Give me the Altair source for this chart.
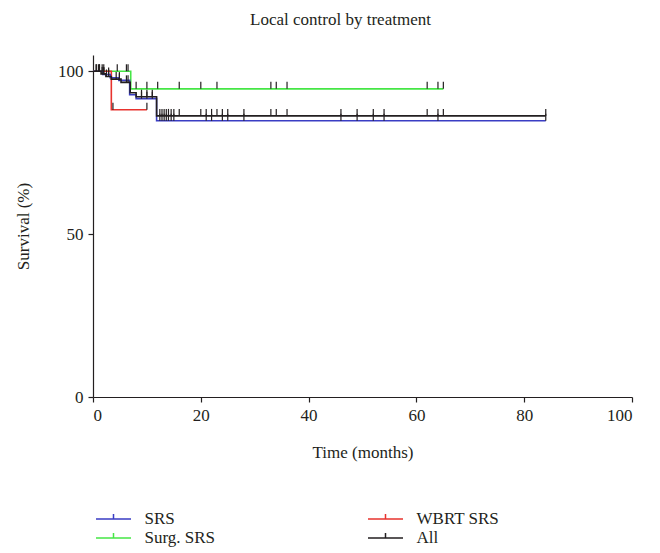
import altair as alt
import pandas as pd

# ---- Kaplan-Meier step data (time in months, survival %) ----
srs_t = [0, 1.8, 3.2, 4.8, 6.8, 8.0, 11.8, 84]
srs_s = [100, 99.0, 98.0, 97.2, 92.8, 91.6, 84.8, 84.8]
surg_t = [0, 7.0, 65]
surg_s = [100, 94.6, 94.6]
wbrt_t = [0, 3.4, 10]
wbrt_s = [100, 88.2, 88.2]
all_t = [0, 1.5, 2.4, 3.4, 5.2, 6.9, 8.0, 11.8, 84]
all_s = [100, 99.2, 98.4, 97.6, 96.6, 93.4, 92.2, 86.3, 86.3]

# ---- censoring times ----
srs_c = [1.2, 2.0, 2.9, 4.9, 9.0, 10.0, 11.0, 12.4, 12.8, 13.2, 13.6, 14.0, 14.5,
         15.0, 21, 22, 24, 25, 28, 46, 49, 52, 54, 64, 84]
surg_c = [1.0, 2.0, 4.5, 6.2, 6.5, 8, 10, 12, 16, 20, 23, 33, 34, 36, 62, 64, 65]
wbrt_c = [0.6, 1.7, 3.7, 10]
all_c = [0.6, 1.2, 1.7, 2.0, 2.5, 2.9, 4.3, 4.9, 6.2, 6.5, 9, 10, 11, 12.4, 12.8,
         13.2, 13.6, 14.0, 14.5, 15.0, 16, 20, 21, 22, 23, 24, 25, 28, 33, 34, 36,
         46, 49, 52, 54, 62, 64, 65, 84]

# legend is filled column by column: SRS, Surg. SRS | WBRT SRS, All
groups = ["SRS", "Surg. SRS", "WBRT SRS", "All"]
colors = ["#3a3dc4", "#45e645", "#e8332e", "#231f20"]

series = {
    "Surg. SRS": (surg_t, surg_s, surg_c),
    "WBRT SRS": (wbrt_t, wbrt_s, wbrt_c),
    "SRS": (srs_t, srs_s, srs_c),
    "All": (all_t, all_s, all_c),
}


def level(ts, ss, t):
    v = ss[0]
    for ti, si in zip(ts, ss):
        if ti <= t:
            v = si
    return v


line_rows, tick_rows = [], []
for g, (ts, ss, cs) in series.items():
    for i, (t, s) in enumerate(zip(ts, ss)):
        line_rows.append({"group": g, "time": t, "surv": s, "order": i})
    for c in cs:
        tick_rows.append({"group": g, "time": c, "surv": level(ts, ss, c)})

lines_df = pd.DataFrame(line_rows)
ticks_df = pd.DataFrame(tick_rows)

FONT = "Liberation Serif"

xenc = alt.X("time:Q", scale=alt.Scale(domain=[0, 100], nice=False),
             axis=alt.Axis(values=[0, 20, 40, 60, 80, 100], title="Time (months)",
                           titlePadding=21))
yenc = alt.Y("surv:Q", scale=alt.Scale(domain=[0, 105], nice=False),
             axis=alt.Axis(values=[0, 50, 100], title="Survival (%)",
                           titlePadding=25))

lines = alt.Chart(lines_df).mark_line(interpolate="step-after", strokeWidth=1.6).encode(
    x=xenc,
    y=yenc,
    color=alt.Color("group:N", scale=alt.Scale(domain=groups, range=colors),
                    legend=alt.Legend(title=None, orient="none", legendX=9.5, legendY=453,
                                      columns=2, columnPadding=149, rowPadding=0,
                                      symbolType="M-1.75,0H1.75M0,0V-0.5", symbolSize=400,
                                      symbolStrokeWidth=1.5, symbolFillColor="transparent",
                                      labelFont=FONT, labelFontSize=17, labelColor="#231f20",
                                      labelOffset=20)),
    detail="group:N",
    order="order:Q",
)

ticks = alt.Chart(ticks_df).mark_point(shape="M0,0V-1", size=196, strokeWidth=1.2,
                                       color="#231f20", filled=False, opacity=1).encode(
    x="time:Q",
    y="surv:Q",
)

chart = alt.layer(lines, ticks).properties(
    width=539, height=342,
    title=alt.TitleParams("Local control by treatment", font=FONT, fontSize=17,
                          fontWeight="normal", color="#231f20", anchor="middle",
                          offset=26, dx=-22),
    autosize=alt.AutoSizeParams(type="none"),
    padding={"left": 85, "top": 47, "right": 20, "bottom": 160},
).configure_view(stroke=None).configure_axis(
    grid=False, domainColor="#231f20", tickColor="#231f20", tickSize=5,
    labelFont=FONT, titleFont=FONT, labelFontSize=17, titleFontSize=17,
    labelColor="#231f20", titleColor="#231f20", titleFontWeight="normal",
    domainWidth=1.2, tickWidth=1.2, labelPadding=5,
)

chart.save("out.html", embed_options={"renderer": "svg", "actions": False})
